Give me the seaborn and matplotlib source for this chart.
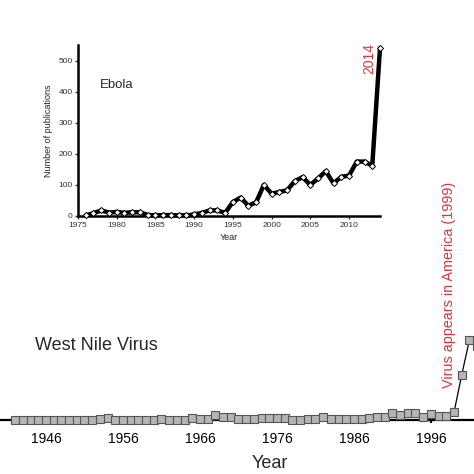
import numpy as np
import pandas as pd
import seaborn as sns
from matplotlib import pyplot as plt

# West Nile Virus publications per year (main chart, cropped at right)
wnv_years = list(range(1942, 2003))
wnv_counts = [1, 0, 0, 0, 1, 0, 0, 0, 0, 1,
              1, 2, 6, 1, 0, 1, 1, 1, 0, 2,
              1, 0, 1, 4, 2, 2, 12, 7, 7, 2,
              2, 2, 6, 6, 6, 6, 1, 1, 2, 3,
              7, 3, 3, 3, 3, 2, 4, 8, 7, 17,
              12, 17, 17, 7, 15, 9, 10, 19, 112, 200,
              185]

# Ebola publications per year (inset)
ebola_years = list(range(1976, 2015))
ebola_counts = [2, 9, 18, 11, 13, 10, 12, 12, 3, 2,
                3, 3, 2, 2, 5, 10, 18, 18, 10, 45,
                59, 33, 44, 100, 72, 77, 83, 112, 125, 100,
                121, 144, 105, 126, 130, 175, 175, 162, 540]

main_ticks = [1946, 1956, 1966, 1976, 1986, 1996]
inset_xticks = [1975, 1980, 1985, 1990, 1995, 2000, 2005, 2010]
inset_yticks = [0, 100, 200, 300, 400, 500]

red = "#d8373f"

sns.set_style("white")
plt.rcParams['font.family'] = ['Liberation Sans', 'DejaVu Sans']

wnv = pd.DataFrame({"year": wnv_years, "count": wnv_counts})
ebola = pd.DataFrame({"year": ebola_years, "count": ebola_counts})

fig = plt.figure(figsize=(4.74, 4.74), dpi=100)

# main West Nile chart
ax = fig.add_axes([0, 54 / 474, 1, 420 / 474])
sns.lineplot(data=wnv, x="year", y="count", ax=ax, color="black", lw=0.9,
             marker="s", markersize=5.9, markerfacecolor="#b5b5b5",
             markeredgecolor="#555555", markeredgewidth=0.8,
             clip_on=False, zorder=3)
ax.set_xlim(1940.03, 2001.6)
ax.set_ylim(0, 1050)
for s in ["left", "right", "top"]:
    ax.spines[s].set_visible(False)
ax.spines["bottom"].set_linewidth(1.6)
ax.spines["bottom"].set_color("black")
ax.set_xticks(main_ticks)
ax.set_xticklabels([str(t) for t in main_ticks])
ax.set_yticks([])
ax.tick_params(axis="x", direction="out", length=2.5, width=1.6,
               labelsize=10, pad=6, colors="black", bottom=True)
ax.set_xlabel("")
ax.set_ylabel("")
ax.text(1944.6, 175, "West Nile Virus", fontsize=13, ha="left", va="baseline")
ax.text(1998.35, 80, "Virus appears in America (1999)", color=red,
        fontsize=10.4, rotation=90, ha="center", va="bottom")
fig.text(270 / 474, 1 - 468 / 474, "Year", fontsize=13, ha="center",
         va="baseline")

# Ebola inset
ax2 = fig.add_axes([78 / 474, 1 - 216 / 474, 302 / 474, 171 / 474])
ax2.set_facecolor("none")
sns.lineplot(data=ebola, x="year", y="count", ax=ax2, color="black", lw=3.2,
             marker="D", markersize=3.1, markerfacecolor="white",
             markeredgecolor="black", markeredgewidth=0.7,
             clip_on=False, zorder=3)
ax2.set_xlim(1975, 2014)
ax2.set_ylim(0, 550)
for s in ["right", "top"]:
    ax2.spines[s].set_visible(False)
for s in ["left", "bottom"]:
    ax2.spines[s].set_linewidth(1.8)
    ax2.spines[s].set_color("black")
ax2.set_xticks(inset_xticks)
ax2.set_yticks(inset_yticks)
ax2.tick_params(direction="out", length=2, width=1, labelsize=6, pad=2,
                colors="#333333", left=True, bottom=True)
ax2.set_xlabel("Year", fontsize=6.5, labelpad=3, color="#222222")
ax2.set_ylabel("Number of publications", fontsize=6.5, labelpad=4,
               color="#222222")
ax2.text(1977.8, 412, "Ebola", fontsize=9.5, ha="left", va="baseline")
ax2.text(2012.6, 508, "2014", color=red, fontsize=10, rotation=90,
         ha="center", va="center")

plt.savefig("out.png", dpi=100)
